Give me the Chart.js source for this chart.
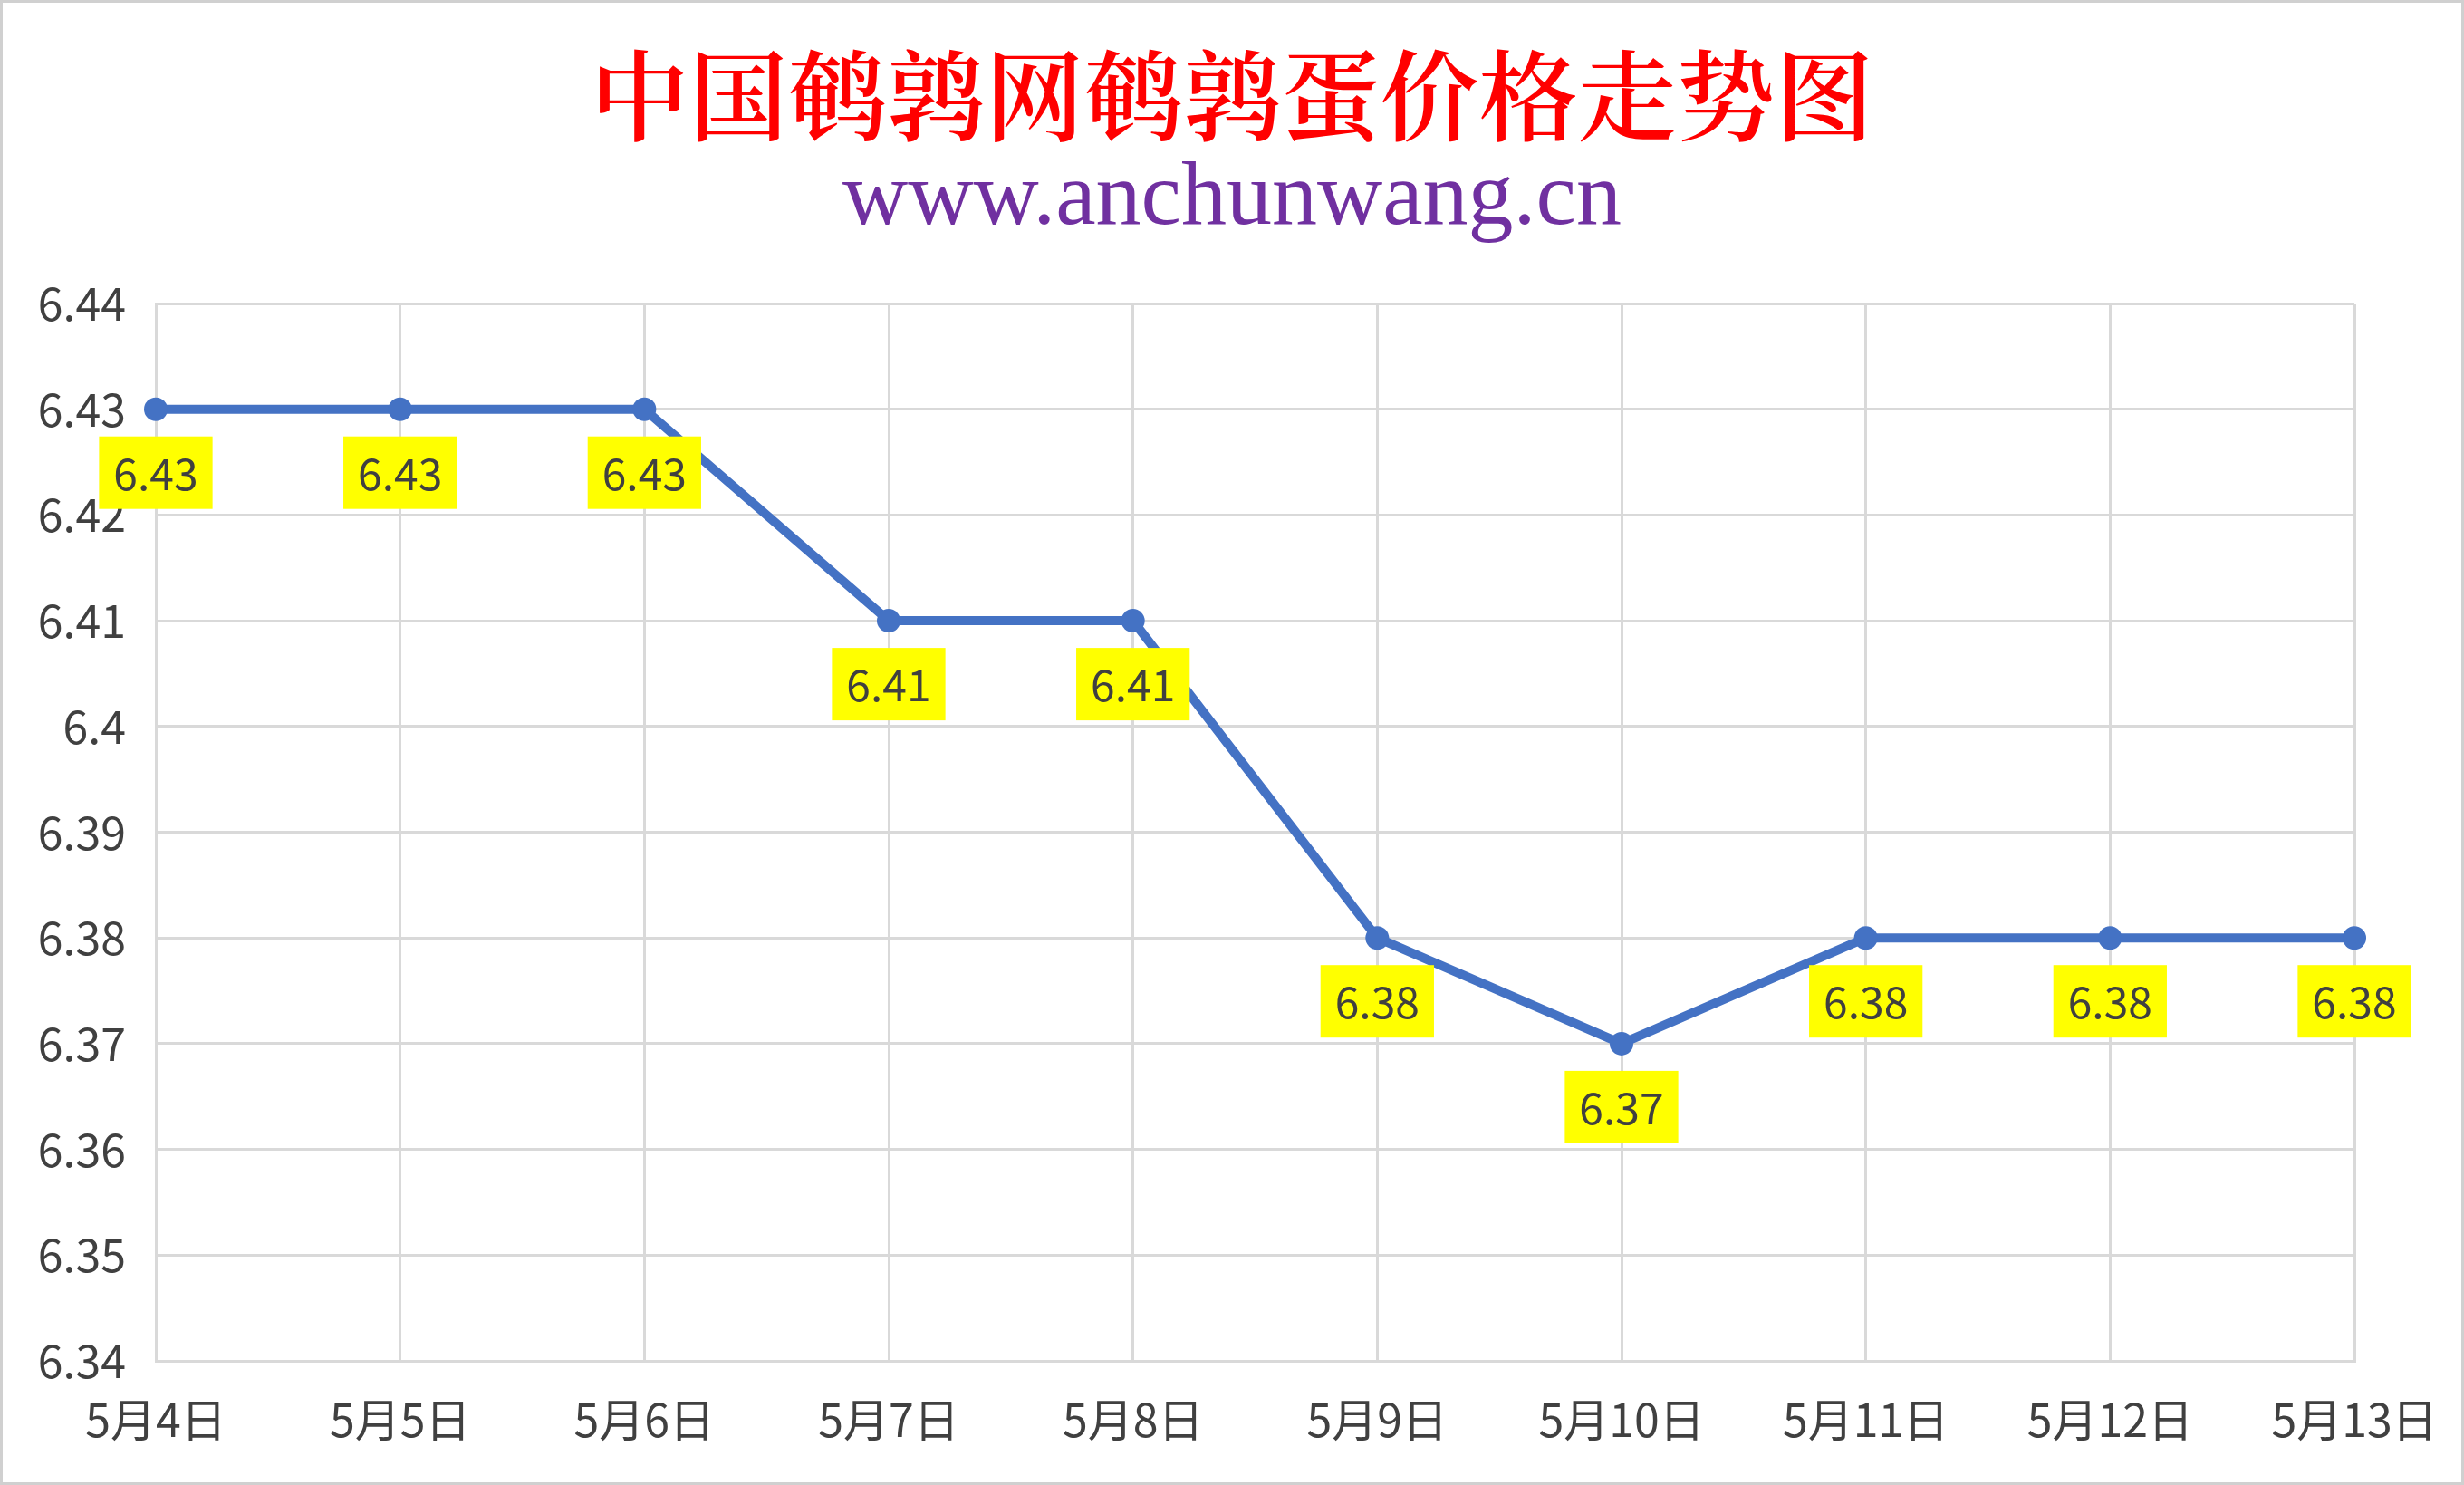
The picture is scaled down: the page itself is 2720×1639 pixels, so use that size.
<!DOCTYPE html>
<html>
<head>
<meta charset="utf-8">
<script src="https://cdn.jsdelivr.net/npm/chart.js@4/dist/chart.umd.min.js"></script>
<style>
  html, body { margin: 0; padding: 0; background: #fff; }
  #wrap { width: 2720px; height: 1639px; box-sizing: border-box; border: 3px solid #d0d0d0; }
  canvas { display: block; }
</style>
</head>
<body>
<div id="wrap"><canvas id="chart" width="2714" height="1633"></canvas></div>
<script>
'use strict';

// chart data
const days = ['5月4日', '5月5日', '5月6日', '5月7日', '5月8日', '5月9日', '5月10日', '5月11日', '5月12日', '5月13日'];
const prices = [6.43, 6.43, 6.43, 6.41, 6.41, 6.38, 6.37, 6.38, 6.38, 6.38];
const yTicks = [6.34, 6.35, 6.36, 6.37, 6.38, 6.39, 6.40, 6.41, 6.42, 6.43, 6.44];

const cjk = '"Noto Sans CJK SC", "Noto Sans", sans-serif';
const textGray = '#404040';
const gridGray = '#d9d9d9';

// yellow value boxes under each point
const valueBoxes = {
  id: 'valueBoxes',
  afterDatasetsDraw(chart) {
    const ctx = chart.ctx;
    const meta = chart.getDatasetMeta(0);
    ctx.save();
    ctx.font = '48px ' + cjk;
    ctx.textAlign = 'center';
    ctx.textBaseline = 'middle';
    meta.data.forEach((pt, i) => {
      const txt = String(prices[i]);
      const w = ctx.measureText(txt).width + 32;
      const h = 80;
      const top = pt.y + 30;
      ctx.fillStyle = '#ffff00';
      ctx.fillRect(pt.x - w / 2, top, w, h);
      ctx.fillStyle = textGray;
      ctx.fillText(txt, pt.x, top + h / 2 + 1);
    });
    ctx.restore();
  }
};

new Chart(document.getElementById('chart'), {
  type: 'line',
  data: {
    labels: days,
    datasets: [{
      data: prices,
      borderColor: '#4472c4',
      backgroundColor: '#4472c4',
      borderWidth: 10,
      pointRadius: 13,
      pointBorderWidth: 0,
      pointBackgroundColor: '#4472c4',
      tension: 0,
      clip: false
    }]
  },
  options: {
    responsive: false,
    animation: false,
    devicePixelRatio: 1,
    layout: { padding: 0 },
    plugins: {
      legend: { display: false },
      tooltip: { enabled: false },
      title: {
        display: true,
        text: '中国鹌鹑网鹌鹑蛋价格走势图',
        color: '#ff0000',
        font: { family: '"Noto Serif CJK SC", "Noto Sans CJK SC", serif', size: 109, weight: 600, lineHeight: 1 },
        padding: { top: 48, bottom: 0 }
      },
      subtitle: {
        display: true,
        text: 'www.anchunwang.cn',
        color: '#7030a0',
        font: { family: '"Liberation Serif", "Times New Roman", serif', size: 100, lineHeight: 1 },
        padding: { top: 11, bottom: 64 }
      }
    },
    scales: {
      x: {
        offset: false,
        // invisible tick marks give the gap under the axis; ticks.padding would also widen the side margins
        grid: { color: gridGray, lineWidth: 3, drawTicks: true, tickLength: 35, tickColor: 'rgba(0,0,0,0)' },
        border: { color: gridGray, width: 3 },
        ticks: { color: textGray, font: { family: cjk, size: 50 }, padding: 0, maxRotation: 0, autoSkip: false },
        afterFit(scale) { scale.height = 134; }
      },
      y: {
        min: 6.34,
        max: 6.44,
        grid: { color: gridGray, lineWidth: 3, drawTicks: false },
        border: { color: gridGray, width: 3 },
        ticks: {
          color: textGray,
          font: { family: cjk, size: 50 },
          padding: 33,
          callback: v => String(+v.toFixed(2))
        },
        afterBuildTicks(scale) { scale.ticks = yTicks.map(v => ({ value: v })); },
        afterFit(scale) { scale.width = 169; }
      },
      // empty right-hand axis: only keeps the right margin, titles stay centred on the whole picture
      yRight: {
        position: 'right',
        grid: { display: false },
        border: { display: false },
        ticks: { display: false },
        afterFit(scale) { scale.width = 118; }
      }
    }
  },
  plugins: [valueBoxes]
});
</script>
</body>
</html>
